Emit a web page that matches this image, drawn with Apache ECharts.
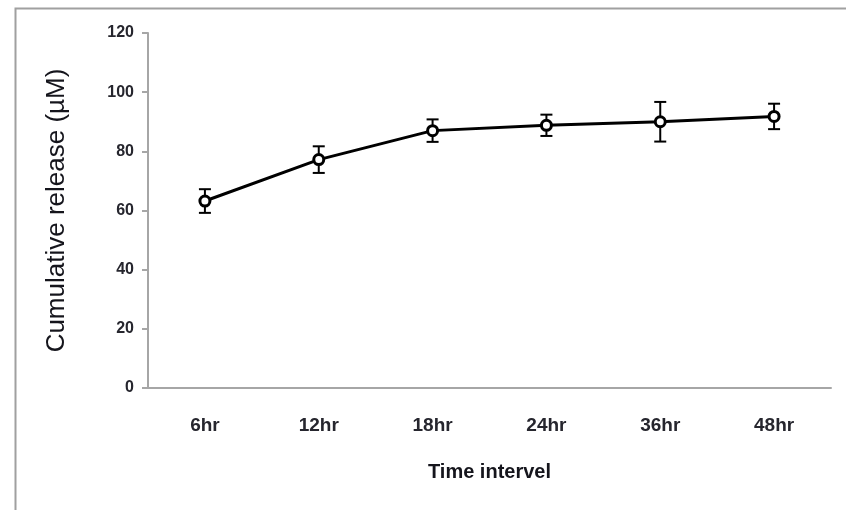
<!DOCTYPE html>
<html><head><meta charset="utf-8">
<script src="https://cdn.jsdelivr.net/npm/echarts@6/dist/echarts.min.js"></script>
<style>html,body{margin:0;padding:0;background:#fff}#c{width:846px;height:510px}</style>
</head><body><div id="c"></div>
<script>
var categories = ['6hr','12hr','18hr','24hr','36hr','48hr'];
var meanValues = [63.2, 77.2, 87.0, 88.8, 90.0, 91.8];
var errValues = [4.0, 4.5, 3.8, 3.6, 6.7, 4.3];
var yTicks = [0, 20, 40, 60, 80, 100, 120];

var chart = echarts.init(document.getElementById('c'));
var errData = categories.map(function (c, i) { return [i, meanValues[i] - errValues[i], meanValues[i] + errValues[i]]; });
var font = '"Liberation Sans", Arial, sans-serif';
chart.setOption({
  animation: false,
  graphic: [{ type: 'rect', shape: { x: 15.5, y: 8.5, width: 900, height: 600 }, style: { fill: 'none', stroke: '#a0a0a0', lineWidth: 2 } }],
  grid: { left: 148, right: 15, top: 33, bottom: 122 },
  xAxis: {
    type: 'category', data: categories, boundaryGap: true,
    axisLine: { lineStyle: { color: '#a6a6a6', width: 2 } },
    axisTick: { show: false },
    axisLabel: { color: '#26262e', fontSize: 19, fontWeight: 'bold', fontFamily: font, margin: 28 },
    name: 'Time intervel', nameLocation: 'middle', nameGap: 74,
    nameTextStyle: { color: '#15151c', fontSize: 20, fontWeight: 'bold', fontFamily: font }
  },
  yAxis: {
    type: 'value', min: 0, max: 120, interval: 20,
    axisLine: { show: true, lineStyle: { color: '#a6a6a6', width: 2 } },
    axisTick: { show: true, length: 6, lineStyle: { color: '#a6a6a6', width: 2 } },
    splitLine: { show: false },
    axisLabel: { color: '#26262e', fontSize: 16, fontWeight: 'bold', fontFamily: font, margin: 14 },
    name: 'Cumulative release (µM)', nameLocation: 'middle', nameGap: 78, nameRotate: 90,
    nameTextStyle: { color: '#15151c', fontSize: 26, fontWeight: 'normal', fontFamily: font }
  },
  series: [
    {
      type: 'line', data: meanValues, symbol: 'circle', symbolSize: 10,
      lineStyle: { color: '#000', width: 3 },
      itemStyle: { color: '#fff', borderColor: '#000', borderWidth: 3 }, z: 3
    },
    {
      type: 'custom', data: errData, z: 2,
      renderItem: function (params, api) {
        var lo = api.coord([api.value(0), api.value(1)]);
        var hi = api.coord([api.value(0), api.value(2)]);
        var w = 6;
        var st = { stroke: '#000', lineWidth: 2, fill: 'none' };
        return { type: 'group', children: [
          { type: 'line', shape: { x1: lo[0], y1: lo[1], x2: hi[0], y2: hi[1] }, style: st },
          { type: 'line', shape: { x1: lo[0]-w, y1: lo[1], x2: lo[0]+w, y2: lo[1] }, style: st },
          { type: 'line', shape: { x1: hi[0]-w, y1: hi[1], x2: hi[0]+w, y2: hi[1] }, style: st }
        ]};
      }
    }
  ]
});
</script></body></html>
